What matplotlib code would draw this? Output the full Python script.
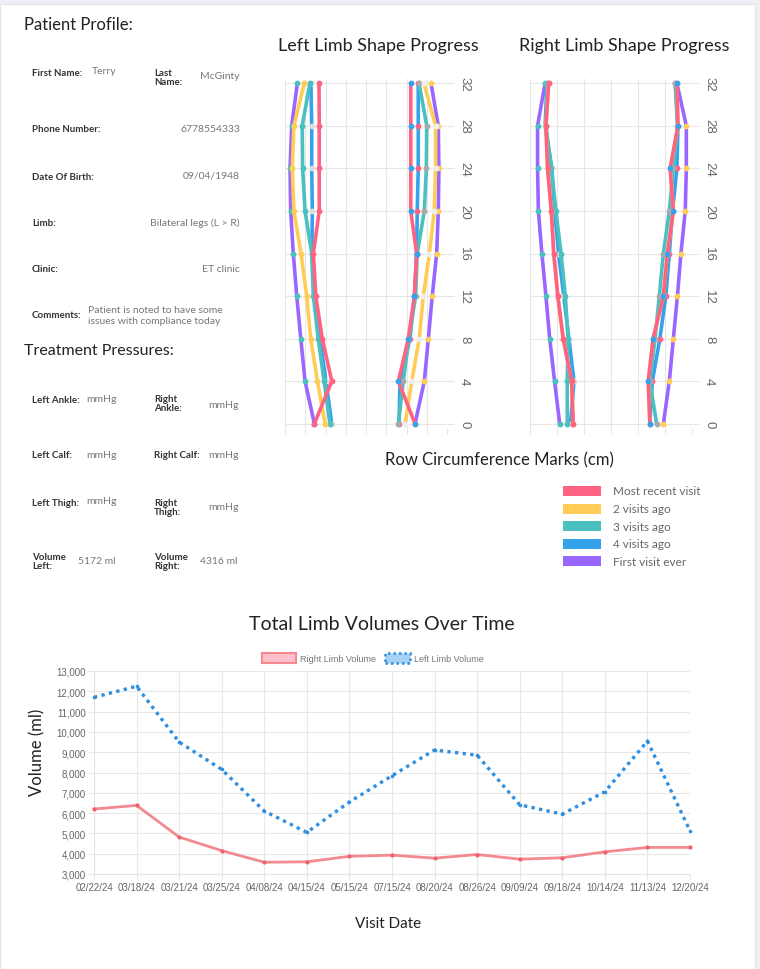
import matplotlib
matplotlib.use("Agg")
import matplotlib.pyplot as plt
from matplotlib.patches import Rectangle

plt.rcParams['font.family'] = ['Lato', 'DejaVu Sans']

W, H = 760, 970

# ---- limb shape data (heights in cm, edge positions in grid units) ----
heights = [0, 4, 8, 12, 16, 20, 24, 28, 32]
visit_names = ["Most recent visit", "2 visits ago", "3 visits ago", "4 visits ago", "First visit ever"]
visit_colors = ["#ff6384", "#ffcd56", "#4bc0c0", "#36a2eb", "#9966ff"]

# left limb: inner (left) edge and outer (right) edge, one list per visit
left_inner = [
    [1.45, 2.31, 1.84, 1.52, 1.40, 1.69, 1.69, 1.69, 1.68],
    [1.98, 1.60, 1.27, 1.07, 0.79, 0.44, 0.36, 0.44, 0.95],
    [2.22, 1.93, 1.64, 1.40, 1.32, 0.99, 0.87, 0.85, 1.23],
    [2.31, 2.02, 1.73, 1.48, 1.33, 1.35, 1.32, 1.32, 1.28],
    [1.45, 0.99, 0.78, 0.58, 0.41, 0.28, 0.25, 0.33, 0.61],
]
left_outer = [
    [6.42, 5.60, 6.09, 6.39, 6.50, 6.21, 6.21, 6.21, 6.21],
    [5.93, 6.26, 6.63, 6.83, 7.13, 7.37, 7.44, 7.44, 6.86],
    [5.60, 5.84, 6.12, 6.45, 6.53, 6.88, 6.98, 7.00, 6.62],
    [5.63, 5.68, 6.17, 6.39, 6.50, 6.53, 6.58, 6.58, 6.58],
    [6.42, 6.88, 7.08, 7.27, 7.49, 7.57, 7.60, 7.57, 7.21],
]
# right limb
right_inner = [
    [1.60, 1.54, 1.23, 1.03, 0.88, 0.79, 0.65, 0.59, 0.69],
    [1.60, 1.54, 1.23, 1.03, 0.88, 0.79, 0.65, 0.59, 0.69],
    [1.38, 1.38, 1.41, 1.31, 1.15, 0.96, 0.79, 0.59, 0.63],
    [1.50, 1.63, 1.44, 1.25, 1.06, 0.91, 0.81, 0.56, 0.63],
    [1.10, 0.91, 0.73, 0.59, 0.44, 0.31, 0.28, 0.28, 0.56],
]
right_outer = [
    [4.44, 4.38, 4.56, 4.94, 5.09, 5.31, 5.19, 5.48, 5.44],
    [4.44, 4.38, 4.56, 4.94, 5.09, 5.31, 5.19, 5.48, 5.44],
    [4.69, 4.44, 4.63, 4.79, 4.94, 5.16, 5.31, 5.46, 5.38],
    [4.44, 4.53, 4.81, 5.03, 5.16, 5.28, 5.44, 5.48, 5.38],
    [4.94, 5.16, 5.31, 5.46, 5.59, 5.75, 5.79, 5.79, 5.44],
]

# ---- volume data ----
visit_dates = ["02/22/24", "03/18/24", "03/21/24", "03/25/24", "04/08/24", "04/15/24", "05/15/24",
               "07/15/24", "08/20/24", "08/26/24", "09/09/24", "09/18/24", "10/14/24", "11/13/24", "12/20/24"]
right_volume = [6200, 6380, 4820, 4150, 3580, 3600, 3870, 3930, 3780, 3960, 3730, 3800, 4090, 4310, 4310]
left_volume = [11700, 12250, 9500, 8150, 6100, 5050, 6550, 7840, 9110, 8850, 6410, 5950, 7050, 9550, 5130]

# ---- profile text ----
profile_rows = [
    ("First Name:", "Terry"),
    ("Phone Number:", "6778554333"),
    ("Date Of Birth:", "09/04/1948"),
    ("Limb:", "Bilateral legs (L > R)"),
    ("Clinic:", "ET clinic"),
]


def px_axes(fig, x0, y0, x1, y1):
    return fig.add_axes([x0 / W, 1 - y1 / H, (x1 - x0) / W, (y1 - y0) / H])


def ftext(fig, x, y, s, **kw):
    return fig.text(x / W, 1 - y / H, s, **kw)


fig = plt.figure(figsize=(W / 100, H / 100), dpi=100)
fig.patch.set_facecolor("#eef0f6")
fig.patches.append(Rectangle((0, 0), 755 / W, 1 - 5 / H, transform=fig.transFigure,
                             facecolor="white", edgecolor="#e2e4ea", lw=0.8, zorder=-5))

TITLE = "#222222"
LABEL = "#333333"
VALUE = "#777777"
TICKFONT = ["Liberation Sans", "DejaVu Sans"]

# ---- Patient profile ----
ftext(fig, 24, 25, "Patient Profile:", fontsize=12, color=TITLE, va="center")
lab = dict(fontsize=7, fontweight="bold", color=LABEL, va="center", linespacing=1.0)
val = dict(fontsize=7.5, color=VALUE, va="center")

ftext(fig, 32, 73, "First Name:", **lab)
ftext(fig, 92, 72, "Terry", **val)
ftext(fig, 154, 78, "Last\nName:", **lab)
ftext(fig, 240, 77, "McGinty", ha="right", **val)
row_y = [129, 176, 223, 269]
for (k, v), y in zip(profile_rows[1:], row_y):
    ftext(fig, 32, y + 1, k, **lab)
    ftext(fig, 240, y, v, ha="right", **val)
ftext(fig, 32, 316, "Comments:", **lab)
ftext(fig, 88, 316, "Patient is noted to have some\nissues with compliance today",
      fontsize=7.5, color=VALUE, va="center", linespacing=1.3)

ftext(fig, 24, 351, "Treatment Pressures:", fontsize=11.5, color=TITLE, va="center")
ftext(fig, 32, 401, "Left Ankle:", **lab)
ftext(fig, 86, 400, "mmHg", **val)
ftext(fig, 154, 404, "Right\nAnkle:", **lab)
ftext(fig, 208, 405, "mmHg", **val)
ftext(fig, 32, 456, "Left Calf:", **lab)
ftext(fig, 86, 456, "mmHg", **val)
ftext(fig, 154, 456, "Right Calf:", **lab)
ftext(fig, 208, 456, "mmHg", **val)
ftext(fig, 32, 503, "Left Thigh:", **lab)
ftext(fig, 86, 502, "mmHg", **val)
ftext(fig, 154, 508, "Right\nThigh:", **lab)
ftext(fig, 208, 508, "mmHg", **val)
ftext(fig, 32, 562, "Volume\nLeft:", **lab)
ftext(fig, 78, 562, "5172 ml", **val)
ftext(fig, 154, 562, "Volume\nRight:", **lab)
ftext(fig, 200, 562, "4316 ml", **val)

# ---- limb shape charts ----
inner_marker = ["#ff6384", "#ffcd56", "#4bc0c0", "#dddddd", "#4bc0c0"]
outer_marker = ["#36a2eb", "#eeeeee", "#aaaaaa", "#ff6384", "#ffcd56"]


def limb_chart(ax, inner, outer, ngrid, title, title_x):
    for i in reversed(range(len(visit_names))):
        z = 10 - i
        for edge, mcol in ((inner[i], inner_marker[i]), (outer[i], outer_marker[i])):
            ax.plot(edge, heights, color=visit_colors[i], lw=2.6, zorder=z,
                    solid_capstyle="round", clip_on=False)
            ax.plot(edge, heights, ls="none", marker="o", ms=4.2, mfc=mcol, mec="none",
                    zorder=z + 0.1, clip_on=False)
    ax.set_xlim(0, ngrid)
    ax.set_ylim(-0.4, 32.4)
    ax.set_xticks(range(ngrid + 1))
    ax.set_yticks(heights)
    ax.grid(True, color="#e6e6e6", lw=0.8)
    ax.yaxis.tick_right()
    ax.tick_params(axis="y", labelrotation=-90, labelsize=9.5, labelcolor="#666666",
                   color="#e6e6e6", length=5, pad=3)
    ax.tick_params(axis="x", labelbottom=False, length=4, color="#e6e6e6")
    for lbl in ax.get_yticklabels():
        lbl.set_va("center")
        lbl.set_family(TICKFONT)
    for s in ax.spines.values():
        s.set_visible(False)
    ax.set_facecolor("none")
    ftext(fig, title_x, 46, title, fontsize=13, color=TITLE, ha="center", va="center")


axL = px_axes(fig, 285, 80, 447, 429)
limb_chart(axL, left_inner, left_outer, 8, "Left Limb Shape Progress", 378)
axR = px_axes(fig, 530, 80, 692, 429)
limb_chart(axR, right_inner, right_outer, 6, "Right Limb Shape Progress", 624)

ftext(fig, 499, 460, "Row Circumference Marks (cm)", fontsize=12, color=TITLE, ha="center", va="center")
for i, (name, col) in enumerate(zip(visit_names, visit_colors)):
    y = 492 + i * 17.6
    fig.patches.append(Rectangle((563 / W, 1 - (y + 5) / H), 38 / W, 10 / H,
                                 transform=fig.transFigure, facecolor=col, edgecolor="none"))
    ftext(fig, 613, y, name, fontsize=8.5, color="#666666", va="center")

# ---- volume chart ----
ftext(fig, 382, 624, "Total Limb Volumes Over Time", fontsize=14, color=TITLE, ha="center", va="center")
ax = px_axes(fig, 94, 672, 690, 875)
xs = list(range(len(visit_dates)))
ax.plot(xs, right_volume, color="#f28a8f", lw=2, marker="o", ms=3, mfc="#f06070", mec="none",
        label="Right Limb Volume", zorder=4, clip_on=False)
ax.plot(xs, left_volume, color="#2f8fe0", lw=2.4, ls=(0, (1, 1.3)), marker="o", ms=2.6,
        mfc="#2f8fe0", mec="none", label="Left Limb Volume", zorder=5, clip_on=False)
ax.set_xlim(0, len(visit_dates) - 1)
ax.set_ylim(3000, 13000)
ax.set_yticks(range(3000, 13001, 1000))
ax.set_yticklabels([f"{v:,}" for v in range(3000, 13001, 1000)], family=TICKFONT)
ax.set_xticks(xs)
ax.set_xticklabels(visit_dates, family=TICKFONT)
ax.grid(True, color="#e8e8e8", lw=0.8)
ax.tick_params(labelsize=7, labelcolor="#666666", color="#e8e8e8", length=4, pad=2)
for s in ax.spines.values():
    s.set_color("#e4e4e4")
    s.set_linewidth(0.8)
ax.spines["top"].set_visible(False)
ax.spines["right"].set_visible(False)

# legend boxes drawn like chart.js
fig.patches.append(Rectangle((262 / W, 1 - 664 / H), 34 / W, 10 / H, transform=fig.transFigure,
                             facecolor="#ffc0cb", edgecolor="#f28a8f", lw=1.5))
ftext(fig, 300, 659, "Right Limb Volume", fontsize=6.5, color="#777777", va="center", family=TICKFONT)
fig.patches.append(Rectangle((385 / W, 1 - 664 / H), 25 / W, 10 / H, transform=fig.transFigure,
                             facecolor="#a8d2f5", edgecolor="#2f8fe0", lw=1.8, ls=(0, (1, 1.2))))
ftext(fig, 414, 659, "Left Limb Volume", fontsize=6.5, color="#777777", va="center", family=TICKFONT)

ftext(fig, 37, 752, "Volume (ml)", fontsize=12, color=TITLE, ha="center", va="center", rotation=90)
ftext(fig, 388, 924, "Visit Date", fontsize=11, color=TITLE, ha="center", va="center")

fig.savefig("out.png", dpi=100, facecolor=fig.get_facecolor())
